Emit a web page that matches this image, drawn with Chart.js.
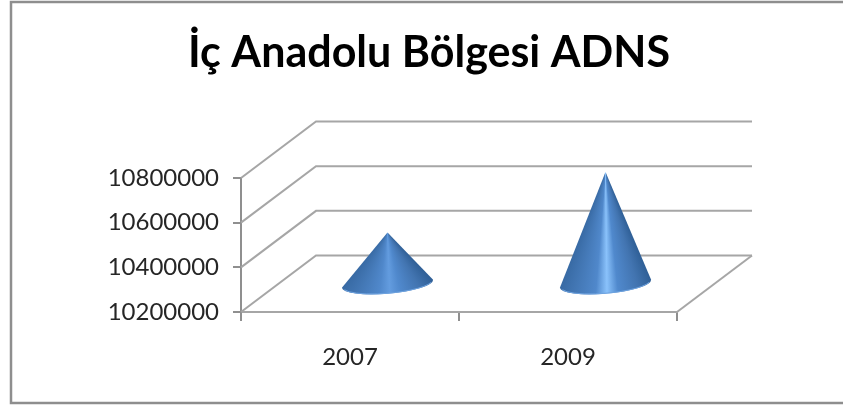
<!DOCTYPE html>
<html><head><meta charset="utf-8">
<script src="https://cdn.jsdelivr.net/npm/chart.js@4"></script>
<style>html,body{margin:0;padding:0;background:#fff;overflow:hidden}canvas{display:block;filter:blur(0.5px)}</style>
</head><body>
<canvas id="c" width="843" height="405"></canvas>
<script>
const titleText = "İç Anadolu Bölgesi ADNS";
const categories = ["2007", "2009"];
const values = [10430000, 10700000];
const axisMin = 10200000;
const axisMax = 10800000;
const axisStep = 200000;

const DEPTH_X = 75, DEPTH_Y = -56.5;
const GRID = "#a6a6a6", AXIS = "#8f8f8f";

const frame = {
  id: "frame",
  beforeDraw(chart) {
    const c = chart.ctx;
    c.save();
    c.fillStyle = "#fff";
    c.fillRect(0, 0, 843, 405);
    c.strokeStyle = "#8e8e8e";
    c.lineWidth = 2.5;
    c.beginPath();
    c.moveTo(850, 2); c.lineTo(11, 2); c.lineTo(11, 403); c.lineTo(850, 403);
    c.stroke();
    c.restore();
  },
  beforeDatasetsDraw(chart) {
    const c = chart.ctx, y = chart.scales.y, x = chart.scales.x;
    const L = x.left, R = x.right;
    c.save();
    c.strokeStyle = GRID;
    c.lineWidth = 2;
    y.ticks.forEach(t => {
      const p = y.getPixelForValue(t.value);
      c.beginPath();
      c.moveTo(L, p);
      c.lineTo(L + DEPTH_X, p + DEPTH_Y);
      c.lineTo(R + DEPTH_X, p + DEPTH_Y);
      c.stroke();
    });
    const b = y.getPixelForValue(axisMin);
    c.beginPath();
    c.moveTo(R, b);
    c.lineTo(R + DEPTH_X, b + DEPTH_Y);
    c.stroke();
    c.restore();
  },
  afterDatasetsDraw(chart) {
    const c = chart.ctx, y = chart.scales.y;
    const base = y.getPixelForValue(axisMin) + DEPTH_Y / 2;
    chart.getDatasetMeta(0).data.forEach((bar, i) => {
      const cx = bar.x + DEPTH_X / 2;
      const top = bar.y + DEPTH_Y / 2;
      const rx = bar.width / 2;
      const tilt = -0.085;
      const ex = rx * Math.cos(tilt), ey = rx * Math.sin(tilt);
      const aR = Math.atan2(base + ey - top, ex);
      const aL = Math.atan2(base - ey - top, -ex);
      const f = (aL - aR) / (2 * Math.PI);
      const g = c.createConicGradient(aR, cx, top);
      const hi = i === 0 ? "#639cdf" : "#8ac2fb";
      g.addColorStop(0, "#2f5f96");
      g.addColorStop(f * 0.16, "#4274b0");
      g.addColorStop(f * 0.38, "#5089cd");
      g.addColorStop(f * 0.5, hi);
      g.addColorStop(f * 0.62, "#5088cb");
      g.addColorStop(f * 0.85, "#4276b3");
      g.addColorStop(f, "#386aa4");
      g.addColorStop(f + 0.001, "#386aa4");
      g.addColorStop(0.999, "#2f5f96");
      c.save();
      c.fillStyle = g;
      c.beginPath();
      c.moveTo(cx, top);
      c.lineTo(cx + ex, base + ey);
      c.ellipse(cx, base, rx, 10, tilt, 0, Math.PI);
      c.closePath();
      c.fill();
      c.strokeStyle = "#6fa3df";
      c.lineWidth = 1;
      c.beginPath();
      c.ellipse(cx, base, rx - 1, 9.5, tilt, 0.25, Math.PI - 0.25);
      c.stroke();
      c.restore();
    });
  }
};

new Chart(document.getElementById("c"), {
  type: "bar",
  plugins: [frame],
  data: {
    labels: categories,
    datasets: [{
      data: values,
      backgroundColor: "rgba(0,0,0,0)",
      borderWidth: 0,
      barPercentage: 0.42,
      categoryPercentage: 1
    }]
  },
  options: {
    responsive: false,
    animation: false,
    layout: { padding: { left: 15, right: 0, top: 0, bottom: 0 } },
    plugins: {
      legend: { display: false },
      tooltip: { enabled: false },
      title: {
        display: true,
        text: titleText,
        color: "#000",
        font: { family: "Lato", size: 43, weight: "bold" },
        padding: { top: 27, bottom: 99.4 }
      }
    },
    scales: {
      x: {
        position: "bottom",
        afterFit(s) { s.height = 93; },
        grid: { drawOnChartArea: false, drawTicks: true, tickLength: 9, color: AXIS, lineWidth: 2 },
        border: { color: GRID, width: 2 },
        ticks: { color: "#262626", padding: 22, font: { family: "Lato", size: 24 } }
      },
      y: {
        position: "left",
        min: axisMin,
        max: axisMax,
        afterFit(s) { s.width = 226; },
        grid: { drawOnChartArea: false, drawTicks: true, tickLength: 8, color: AXIS, lineWidth: 2 },
        border: { color: AXIS, width: 2 },
        ticks: { stepSize: axisStep, color: "#262626", padding: 14, font: { family: "Lato", size: 24 },
          callback(v) { return String(v); } }
      },
      pad: {
        position: "right",
        type: "linear",
        afterFit(s) { s.width = 166; },
        grid: { display: false },
        border: { display: false },
        ticks: { display: false }
      }
    }
  }
});
</script>
</body></html>
